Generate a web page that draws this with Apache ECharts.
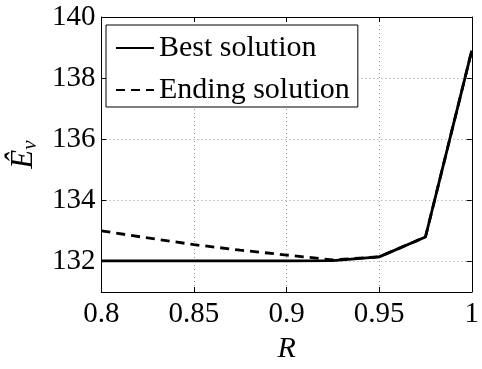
<!DOCTYPE html>
<html><head><meta charset="utf-8">
<script src="https://cdn.jsdelivr.net/npm/echarts@6/dist/echarts.min.js"></script>
<style>html,body{margin:0;padding:0;background:#fff}#c{width:482px;height:369px}</style>
</head><body><div id="c"></div>
<script>
var R = [0.8, 0.825, 0.85, 0.875, 0.9, 0.925, 0.95, 0.975, 1];
var bestSolution = [132.02, 132.02, 132.02, 132.02, 132.02, 132.03, 132.15, 132.8, 138.9];
var endingSolution = [133.0, 132.77, 132.55, 132.37, 132.21, 132.05, 132.15, 132.8, 138.9];
var yTicks = [132, 134, 136, 138, 140];
var xTicks = [0.8, 0.85, 0.9, 0.95, 1];

function pairs(xs, ys){ return xs.map(function(x,i){return [x, ys[i]];}); }
var font = 'Liberation Serif';
var chart = echarts.init(document.getElementById('c'), null, {renderer:'canvas'});
var axisLine = {show:true, lineStyle:{color:'#000', width:1}};
chart.setOption({
  animation:false,
  backgroundColor:'#fff',
  grid:{left:100, right:8, top:17, bottom:64, containLabel:false},
  legend:{
    left:106, top:25, orient:'vertical',
    backgroundColor:'#fff', borderColor:'#000', borderWidth:1,
    padding:[8, 8, 2, 9], itemGap:12, itemWidth:38, itemHeight:20,
    itemStyle:{opacity:0, borderWidth:0},
    textStyle:{fontFamily:font, fontSize:30, color:'#000'},
    data:[{name:'Best solution'},{name:'Ending solution'}]
  },
  xAxis:[{
    type:'value', min:0.8, max:1, position:'bottom',
    name:'R', nameLocation:'middle', nameGap:42,
    nameTextStyle:{fontFamily:font, fontSize:30, fontStyle:'italic', color:'#000'},
    axisLine:axisLine,
    axisTick:{show:true, inside:true, length:5, lineStyle:{color:'#000'}, customValues:xTicks},
    axisLabel:{fontFamily:font, fontSize:29, color:'#000', margin:8, customValues:xTicks,
      formatter:function(v){return String(+v.toFixed(2));}},
    splitLine:{show:true, lineStyle:{color:'#999', type:[1,3], width:1}}
  },{
    type:'value', min:0.8, max:1, position:'top',
    axisLine:axisLine,
    axisTick:{show:true, inside:true, length:5, lineStyle:{color:'#000'}, customValues:xTicks},
    axisLabel:{show:false}, splitLine:{show:false}
  }],
  yAxis:[{
    type:'value', min:131, max:140, position:'left',
    name:'{e|Ê}{s|v}', nameLocation:'middle', nameGap:56, nameRotate:90,
    nameTextStyle:{color:'#000', rich:{
      e:{fontFamily:font, fontSize:31, fontStyle:'italic', color:'#000'},
      s:{fontFamily:font, fontSize:21, fontStyle:'italic', color:'#000', verticalAlign:'bottom', padding:[14,0,0,0]}
    }},
    axisLine:axisLine,
    axisTick:{show:true, inside:true, length:5, lineStyle:{color:'#000'}, customValues:yTicks},
    axisLabel:{fontFamily:font, fontSize:29, color:'#000', margin:6, customValues:yTicks},
    splitLine:{show:true, lineStyle:{color:'#999', type:[1,3], width:1}}
  },{
    type:'value', min:131, max:140, position:'right',
    axisLine:axisLine,
    axisTick:{show:true, inside:true, length:5, lineStyle:{color:'#000'}, customValues:yTicks},
    axisLabel:{show:false}, splitLine:{show:false}
  }],
  series:[{
    name:'Ending solution', type:'line', symbol:'none', z:2,
    data:pairs(R, endingSolution),
    lineStyle:{color:'#000', width:2.8, type:[9,6]}, itemStyle:{color:'#000'}
  },{
    name:'Best solution', type:'line', symbol:'none', z:3,
    data:pairs(R, bestSolution),
    lineStyle:{color:'#000', width:2.8, type:'solid'}, itemStyle:{color:'#000'}
  }]
});
</script></body></html>
